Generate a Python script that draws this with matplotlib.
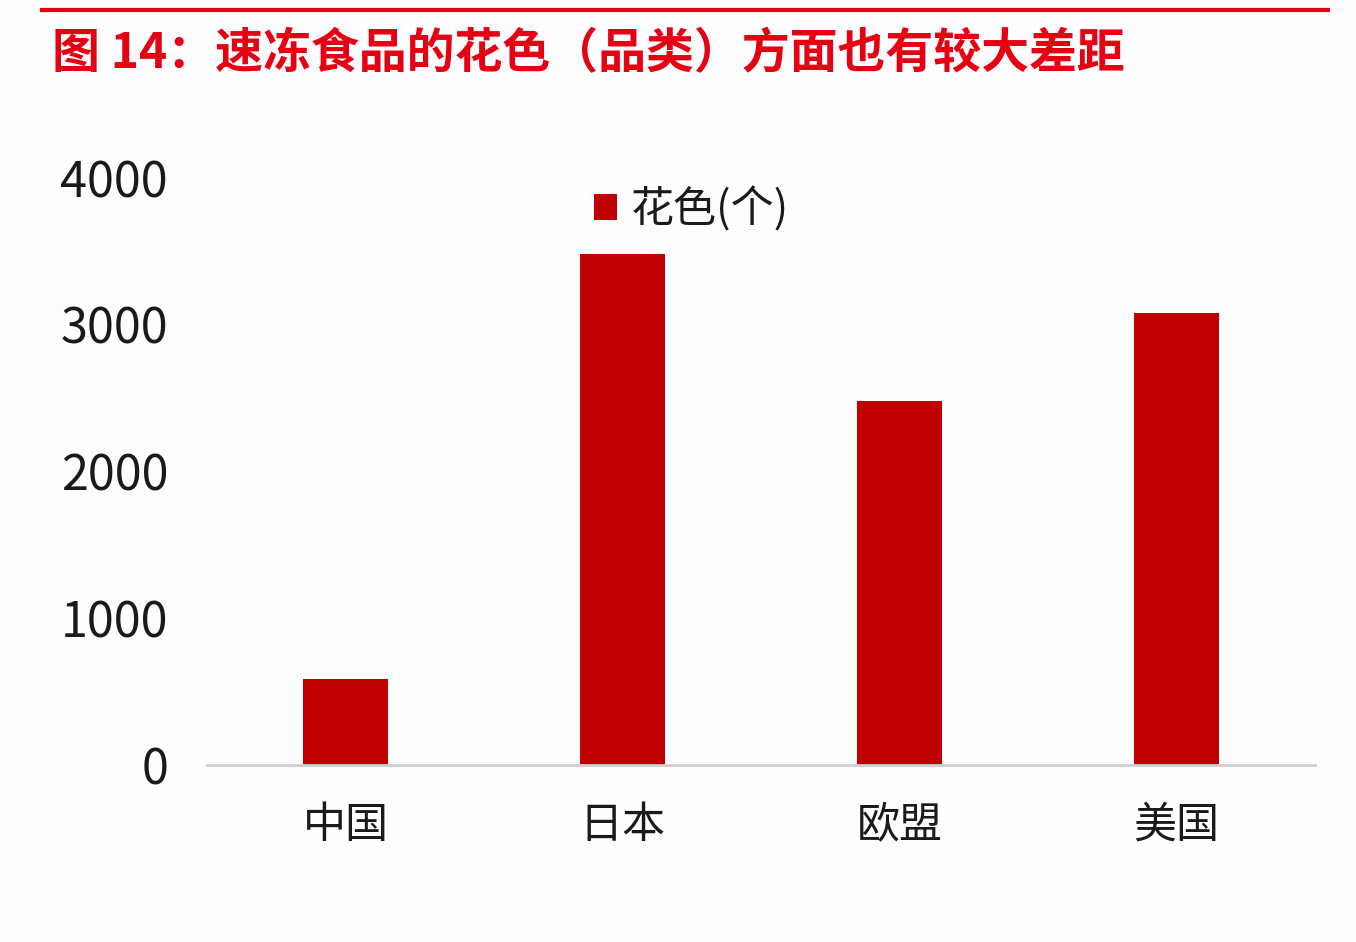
import numpy as np
import matplotlib.pyplot as plt
from matplotlib.lines import Line2D

plt.rcParams['font.family'] = ['Noto Sans CJK SC', 'DejaVu Sans']

# 数据
categories = ['中国', '日本', '欧盟', '美国']
values = [585, 3480, 2480, 3080]
yticks = [0, 1000, 2000, 3000, 4000]
title = '图 14：速冻食品的花色（品类）方面也有较大差距'
legend_label = '花色(个)'

bar_color = '#C00000'
title_color = '#E50012'

fig = plt.figure(figsize=(13.56, 9.42), dpi=100)
fig.patch.set_facecolor('#FDFCFE')

# 顶部红线和标题
fig.add_artist(Line2D([42 / 1356, 1328 / 1356], [1 - 10 / 942, 1 - 10 / 942],
                      color=title_color, lw=3))
fig.text(52 / 1356, 1 - 54 / 942, title, color=title_color, fontsize=34.5,
         fontweight='bold', va='center', ha='left')

ax = fig.add_axes([207 / 1356, (942 - 765) / 942, 1108 / 1356, (765 - 178) / 942])
ax.set_facecolor('#FDFCFE')
x = np.arange(len(categories))
ax.bar(x, values, width=0.31, color=bar_color, label=legend_label, zorder=2)

ax.set_xlim(-0.5, len(categories) - 0.5)
ax.set_ylim(0, 4000)
ax.set_yticks(yticks)
ax.set_yticklabels([str(v) for v in yticks], fontsize=35, color='#1a1a1a')
ax.set_xticks(x)
ax.set_xticklabels(categories, fontsize=31, color='#1a1a1a')
ax.tick_params(axis='both', length=0)
ax.tick_params(axis='y', pad=28)
ax.tick_params(axis='x', pad=28)

for s in ['top', 'right', 'left']:
    ax.spines[s].set_visible(False)
ax.spines['bottom'].set_color('#CFCFCF')
ax.spines['bottom'].set_linewidth(2)

leg = ax.legend(loc='upper center', bbox_to_anchor=(0.437, 1.05), frameon=False,
                fontsize=31, handlelength=0.55, handleheight=0.55, handletextpad=0.3)
for t in leg.get_texts():
    t.set_color('#1a1a1a')

fig.savefig('out.png', dpi=100, facecolor=fig.get_facecolor())
